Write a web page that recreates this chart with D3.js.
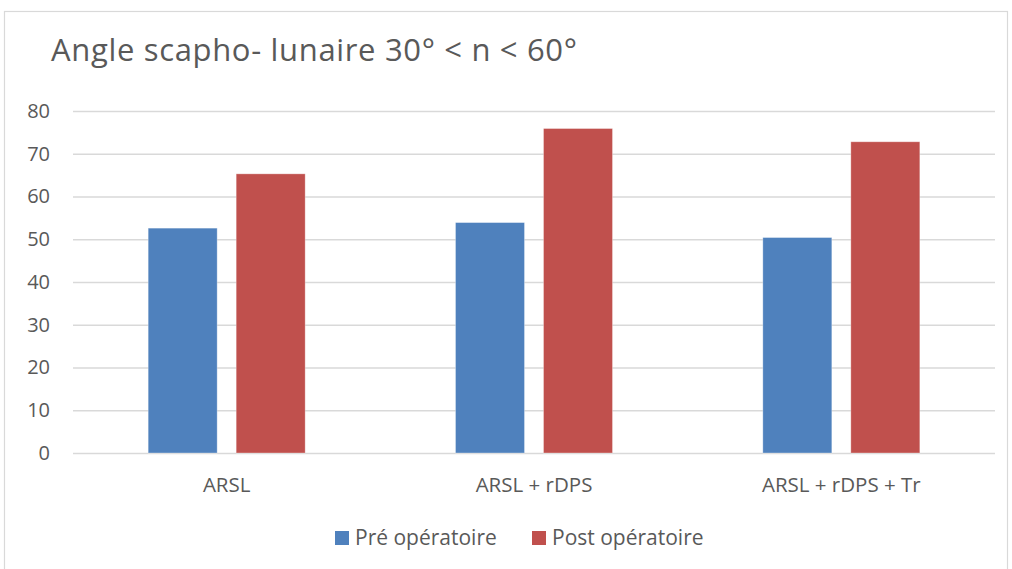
<!DOCTYPE html>
<html>
<head>
<meta charset="utf-8">
<script src="https://cdn.jsdelivr.net/npm/d3@7"></script>
<style>
  body { margin: 0; background: #fff; }
  text { font-family: "Open Sans", sans-serif; fill: #595959; }
</style>
</head>
<body>
<div id="chart"></div>
<script>
(function() {

var categories = ["ARSL", "ARSL + rDPS", "ARSL + rDPS + Tr"];
var seriesNames = ["Pré opératoire", "Post opératoire"];
var preValues = [52.6, 53.9, 50.4];
var postValues = [65.3, 75.9, 72.8];
var yTicks = [0, 10, 20, 30, 40, 50, 60, 70, 80];

var colors = ["#4f81bd", "#c0504d"];

var W = 1012, H = 569;
var margin = {top: 111, right: 17, bottom: 116, left: 73},
    width = W - margin.left - margin.right,
    height = H - margin.top - margin.bottom;

var svg = d3.select("#chart").append("svg")
    .attr("width", W)
    .attr("height", H);

// chart area border
svg.append("rect")
  .attr("x", 4.5).attr("y", 11.5)
  .attr("width", 1003).attr("height", 570)
  .style("fill", "none")
  .style("stroke", "#d9d9d9")
  .style("stroke-width", 1.2);

svg.append("text")
  .attr("x", 51)
  .attr("y", 61)
  .style("font-size", "31px")
  .attr("textLength", 526)
  .attr("lengthAdjust", "spacing")
  .text("Angle scapho- lunaire 30° < n < 60°");

var g = svg.append("g")
    .attr("transform", "translate(" + margin.left + "," + margin.top + ")");

var y = d3.scaleLinear()
    .domain([0, 80])
    .range([height, 0]);

var x0 = d3.scaleBand()
    .domain(categories)
    .range([0, width]);

var groupW = 157;
var x1 = d3.scaleBand()
    .domain(seriesNames)
    .range([0, groupW])
    .paddingInner(0.216);

// gridlines
g.append("g")
  .attr("class", "grid")
  .call(d3.axisLeft(y).tickValues(yTicks).tickSize(-width).tickFormat(""))
  .call(function(s) {
    s.select(".domain").remove();
    s.selectAll("line").attr("stroke", "#d9d9d9").attr("stroke-width", 1.3);
  });

// y labels
g.append("g")
  .call(d3.axisLeft(y).tickValues(yTicks).tickSize(0).tickPadding(23))
  .call(function(s) {
    s.select(".domain").remove();
    s.selectAll("text").style("font-size", "20px").style("fill", "#595959")
      .style("font-family", "'Open Sans', sans-serif");
  });

var data = categories.map(function(c, i) {
  return {cat: c, vals: [preValues[i], postValues[i]]};
});

var groups = g.selectAll(".grp")
    .data(data)
  .enter().append("g")
    .attr("class", "grp")
    .attr("transform", function(d) {
      return "translate(" + (x0(d.cat) + (x0.bandwidth() - groupW) / 2) + ",0)";
    });

groups.selectAll("rect")
    .data(function(d) { return d.vals.map(function(v, j) { return {s: seriesNames[j], v: v, j: j}; }); })
  .enter().append("rect")
    .attr("x", function(d) { return x1(d.s); })
    .attr("width", x1.bandwidth())
    .attr("y", function(d) { return y(d.v); })
    .attr("height", function(d) { return height - y(d.v); })
    .style("fill", function(d) { return colors[d.j]; })
    .style("stroke", "#fff")
    .style("stroke-opacity", 0.4)
    .style("stroke-width", 0.8);

// category axis
g.append("g")
  .attr("transform", "translate(0," + height + ")")
  .call(d3.axisBottom(x0).tickSize(0))
  .call(function(s) {
    s.select(".domain").remove();
    s.selectAll("text")
      .attr("y", 39).attr("dy", null)
      .style("font-size", "20.5px").style("fill", "#595959")
      .style("font-family", "'Open Sans', sans-serif");
  });

// legend
var legendX = [335, 532];
var legend = svg.selectAll(".leg")
    .data(seriesNames)
  .enter().append("g")
    .attr("class", "leg")
    .attr("transform", function(d, i) { return "translate(" + legendX[i] + ",531)"; });

legend.append("rect")
  .attr("width", 14).attr("height", 14)
  .style("fill", function(d, i) { return colors[i]; });

legend.append("text")
  .attr("x", 20)
  .attr("y", 14)
  .style("font-size", "21px")
  .text(function(d) { return d; });

})()
</script>
</body>
</html>
